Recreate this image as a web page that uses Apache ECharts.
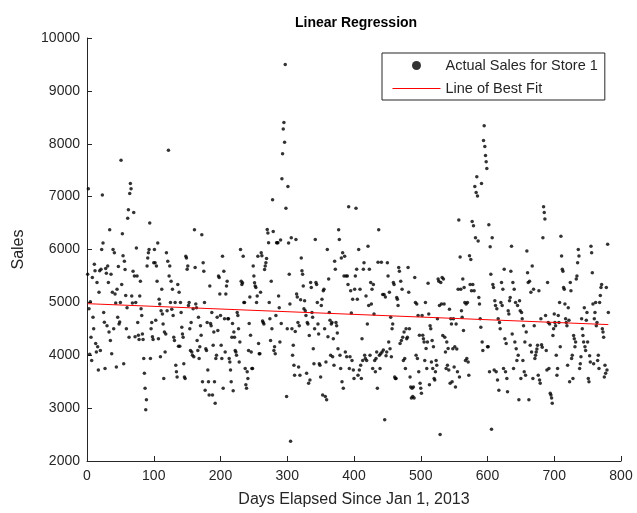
<!DOCTYPE html>
<html>
<head>
<meta charset="utf-8">
<title>Linear Regression</title>
<script src="https://cdn.jsdelivr.net/npm/echarts@6/dist/echarts.min.js"></script>
<style>
  html, body { margin: 0; padding: 0; background: #fff; }
  #chart { width: 637px; height: 513px; }
</style>
</head>
<body>
<div id="chart"></div>
<script>
// daily sales for store 1 (one value per open day)
const sales001_100 = [
  5530, 7150, 4880, 4020, 5010, 4340, 3900, 5470, 4720, 4500,
  5720, 5600, 4220, 4060, 5375, 4160, 3720, 5190, 5600, 4090,
  5625, 6000, 7030, 6125, 4810, 4625, 3750, 5640, 5550, 4560,
  5690, 5375, 4440, 6375, 4280, 5530, 4030, 5190, 6000, 4500,
  5940, 5160, 4990, 3780, 5250, 4720, 5680, 4590, 4630, 5000,
  7690, 5340, 6300, 5880, 3840, 5780, 5620, 5130, 4500, 4900,
  6590, 6750, 4340, 7060, 7250, 7150, 5120, 4990, 5590, 6700,
  5500, 4350, 5000, 6030, 5500, 4620, 4380, 4300, 5120, 5400,
  4880, 4750, 4400, 4300, 3940, 3660, 3375, 2970, 3160, 5690,
  5840, 5940, 6000, 6500, 3940, 4500, 4620, 4350, 4300, 5750
]
const sales101_200 = [
  6000, 5750, 4660, 5690, 5400, 6125, 4310, 5060, 4970, 3970,
  4840, 5250, 4780, 4590, 3560, 4440, 4060, 4400, 5940, 4840,
  5780, 7875, 5500, 5690, 5000, 5400, 4870, 5250, 4750, 4340,
  4280, 5000, 3810, 3690, 3590, 5340, 4170, 5190, 4170, 5000,
  4810, 4530, 4400, 4340, 3840, 3590, 3560, 5870, 5840, 5625,
  5690, 4940, 5000, 4500, 4090, 4620, 4060, 4000, 4880, 3970,
  6375, 5660, 4970, 4900, 4280, 4090, 4720, 3940, 4160, 4560,
  4380, 6280, 3500, 5750, 5590, 5000, 3340, 4125, 4090, 4620,
  3720, 3500, 3250, 5310, 4600, 4560, 4810, 3250, 4190, 4440,
  3500, 3090, 3940, 4000, 4720, 4470, 5500, 5470, 5160, 4750
]
const sales201_300 = [
  4190, 3940, 5870, 3375, 5590, 4690, 4060, 5160, 5310, 5400,
  4690, 4690, 3940, 3870, 3720, 3500, 4340, 4600, 3330, 4440,
  4340, 4090, 4060, 4000, 4810, 4750, 4500, 3870, 4250, 6000,
  5400, 5340, 5370, 5870, 5000, 5000, 3750, 3440, 3375, 3690,
  3560, 4090, 4600, 5100, 4380, 4060, 3750, 3750, 5690, 5500,
  5370, 5310, 5280, 5000, 5120, 5870, 4220, 4030, 4030, 5190,
  5940, 5880, 4650, 4620, 4590, 5620, 5690, 5750, 5830, 6380,
  6310, 6130, 5000, 4690, 4280, 5400, 4500, 6940, 6340, 4090,
  4160, 4030, 4750, 6130, 6130, 6130, 5120, 4900, 4250, 6180,
  4600, 7340, 7810, 8280, 8400, 8030, 9500, 6780, 3220, 4500
]
const sales301_400 = [
  7190, 6125, 5530, 4970, 2375, 6220, 4500, 4000, 4190, 3810,
  3620, 4450, 6190, 5160, 5100, 4620, 3780, 4560, 3620, 5050,
  5840, 5600, 5530, 5310, 4880, 5030, 4840, 4750, 3660, 4620,
  4590, 3470, 4375, 3530, 5375, 5280, 4810, 4720, 4125, 3840,
  4500, 6190, 5375, 5340, 5000, 4590, 4400, 3840, 3810, 3590,
  4940, 5060, 3250, 5220, 5250, 4500, 3220, 3870, 3160, 6000,
  4350, 5440, 4810, 4660, 4000, 4590, 4620, 3970, 4310, 3810,
  5780, 5625, 4620, 4560, 4420, 4125, 6375, 6190, 4000, 3750,
  5840, 3500, 5940, 3375, 5500, 5870, 4060, 5500, 3970, 5500,
  5340, 6810, 3750, 3970, 5220, 4800, 3900, 5060, 3720, 3560
]
const sales401_500 = [
  5250, 5500, 6780, 5625, 5060, 3620, 6000, 3720, 5250, 3810,
  3560, 4310, 3900, 5625, 5750, 4000, 3940, 5120, 3900, 4590,
  6060, 4940, 5625, 4000, 5375, 4970, 5250, 3750, 5340, 4780,
  3900, 3690, 3940, 4060, 3375, 5760, 6375, 4000, 3750, 4030,
  5760, 4060, 5150, 4100, 5150, 2780, 5100, 3990, 4060, 5750,
  5500, 4250, 5190, 4125, 4720, 3970, 4500, 4590, 5375, 5340,
  3590, 3560, 3560, 5090, 5060, 4940, 5660, 5590, 4220, 5400,
  4280, 5250, 4340, 3900, 4440, 3940, 3750, 4500, 4310, 4340,
  5660, 5190, 4500, 3590, 3400, 3190, 3375, 3220, 3400, 3190,
  5470, 5000, 4000, 4970, 3940, 4750, 3690, 4380, 3470, 3375
]
const sales501_600 = [
  3280, 4750, 4380, 4310, 4250, 3900, 5000, 4130, 3750, 4250,
  5360, 4780, 3440, 4560, 4500, 3870, 4280, 3750, 4160, 3560,
  3530, 3690, 3900, 3810, 4690, 5440, 5400, 4940, 2500, 5375,
  4970, 5470, 4375, 5440, 4970, 4340, 4060, 3750, 4250, 3810,
  4130, 3720, 4870, 3470, 4690, 4590, 3500, 4125, 4690, 3780,
  4160, 3400, 4590, 4120, 3690, 5250, 6560, 3590, 5860, 5250,
  4840, 4720, 5440, 4470, 5280, 5000, 3900, 4970, 3940, 5000,
  3870, 3620, 5880, 5340, 5810, 5220, 6530, 5340, 6450, 5220,
  7190, 6220, 7080, 7375, 7010, 6160, 5090, 4970, 4690, 4530,
  7250, 4250, 4090, 8060, 8340, 7950, 7780, 7660, 7530, 4160
]
const sales601_700 = [
  4160, 6470, 3690, 6050, 5530, 2600, 6220, 5340, 5280, 3720,
  5030, 4940, 3690, 4880, 3530, 4690, 3340, 4620, 4500, 5000,
  5375, 4940, 5250, 3750, 5625, 4310, 3690, 4220, 3560, 3310,
  4840, 4780, 5030, 5090, 5590, 6060, 4400, 5375, 3750, 5250,
  4250, 5000, 4125, 3900, 4940, 4000, 3160, 5030, 4840, 3560,
  4810, 4690, 3900, 4560, 3690, 4250, 3620, 4440, 5970, 5560,
  5375, 3160, 5400, 4190, 5190, 4060, 5690, 3560, 5250, 4560,
  3940, 4000, 4060, 4120, 4190, 3620, 5220, 3530, 3470, 4690,
  4200, 4150, 6220, 6810, 6700, 6575, 4750, 4090, 3720, 5375,
  4620, 3750, 4590, 3280, 3250, 3190, 3090, 4375, 4500, 4780
]
const sales701_781 = [
  4620, 4560, 4000, 3620, 3750, 4750, 4620, 5000, 4160, 6250,
  5875, 5625, 5590, 5280, 5250, 4970, 4690, 4620, 4560, 3810,
  4900, 4660, 3500, 5375, 5220, 3940, 4000, 3560, 4375, 4310,
  4160, 4250, 5440, 5500, 5750, 6000, 5875, 3750, 3840, 3970,
  4690, 4500, 4375, 4250, 4900, 4160, 4090, 4660, 4810, 4250,
  3560, 3500, 3990, 3870, 6060, 5940, 5560, 4970, 3840, 4690,
  4810, 5000, 4560, 4620, 3900, 4000, 3750, 5000, 5130, 5280,
  5340, 4500, 4440, 4340, 3590, 3810, 3660, 5280, 3720, 6100,
  4810
]

// regression line end points
const fitDays = [1, 781]
const fitSales = [4975, 4580]

const legend1 = 'Actual Sales for Store 1'
const legend2 = 'Line of Best Fit'

const sales = [].concat(sales001_100, sales101_200, sales201_300, sales301_400,
  sales401_500, sales501_600, sales601_700, sales701_781)

let scatterData = []
for (let i = 0; i < sales.length; i++) {
  scatterData.push([i + 1, sales[i]])
}
let fitData = fitDays.map((d, i) => [d, fitSales[i]])

const fontFamily = '"Liberation Sans", Arial, Helvetica, sans-serif'
const axisColor = '#262626'

let chart = echarts.init(document.getElementById('chart'))
let option = {
  backgroundColor: '#ffffff',
  animation: false,
  title: {
    text: 'Linear Regression',
    left: 290,
    top: 11,
    textStyle: {
      color: '#000',
      fontSize: 14,
      fontWeight: 'bold',
      fontFamily: fontFamily
    }
  },
  grid: {
    left: 87,
    right: 16,
    top: 38,
    bottom: 52
  },
  legend: { // boxed legend, top right
    orient: 'vertical',
    left: 382,
    top: 53,
    padding: [5, 7, 4, 10],
    itemGap: 8,
    itemWidth: 48,
    itemHeight: 9,
    borderColor: axisColor,
    borderWidth: 1,
    backgroundColor: '#fff',
    data: [
      { name: legend1, icon: 'circle' },
      { name: legend2, itemStyle: { opacity: 0 }, lineStyle: { width: 1 } } // plain line, no marker
    ],
    textStyle: {
      color: axisColor,
      fontSize: 14.5,
      lineHeight: 14,
      fontFamily: fontFamily
    }
  },
  xAxis: {
    type: 'value',
    min: 0,
    max: 800,
    interval: 100,
    name: 'Days Elapsed Since Jan 1, 2013',
    nameLocation: 'middle',
    nameGap: 31,
    nameTextStyle: { color: axisColor, fontSize: 16, fontFamily: fontFamily },
    axisLine: { show: true, onZero: false, lineStyle: { color: axisColor, width: 1 } },
    axisTick: { show: true, inside: true, length: 5, lineStyle: { color: axisColor } },
    axisLabel: { color: axisColor, fontSize: 14, margin: 8, fontFamily: fontFamily },
    splitLine: { show: false }
  },
  yAxis: {
    type: 'value',
    min: 2000,
    max: 10000,
    interval: 1000,
    name: 'Sales',
    nameLocation: 'middle',
    nameGap: 60,
    nameTextStyle: { color: axisColor, fontSize: 16, fontFamily: fontFamily },
    axisLine: { show: true, onZero: false, lineStyle: { color: axisColor, width: 1 } },
    axisTick: { show: true, inside: true, length: 5, lineStyle: { color: axisColor } },
    axisLabel: {
      color: axisColor,
      fontSize: 14,
      margin: 7,
      fontFamily: fontFamily,
      formatter: function (v) { return String(v) } // no thousands separator
    },
    splitLine: { show: false }
  },
  series: [
    {
      name: legend1,
      type: 'scatter',
      symbol: 'circle',
      symbolSize: 3.5,
      itemStyle: { color: '#000' },
      data: scatterData
    },
    {
      name: legend2,
      type: 'line',
      symbol: 'none',
      lineStyle: { color: '#ff0000', width: 1 },
      itemStyle: { color: '#ff0000' },
      data: fitData,
      z: 3
    }
  ]
}
chart.setOption(option)
</script>
</body>
</html>
